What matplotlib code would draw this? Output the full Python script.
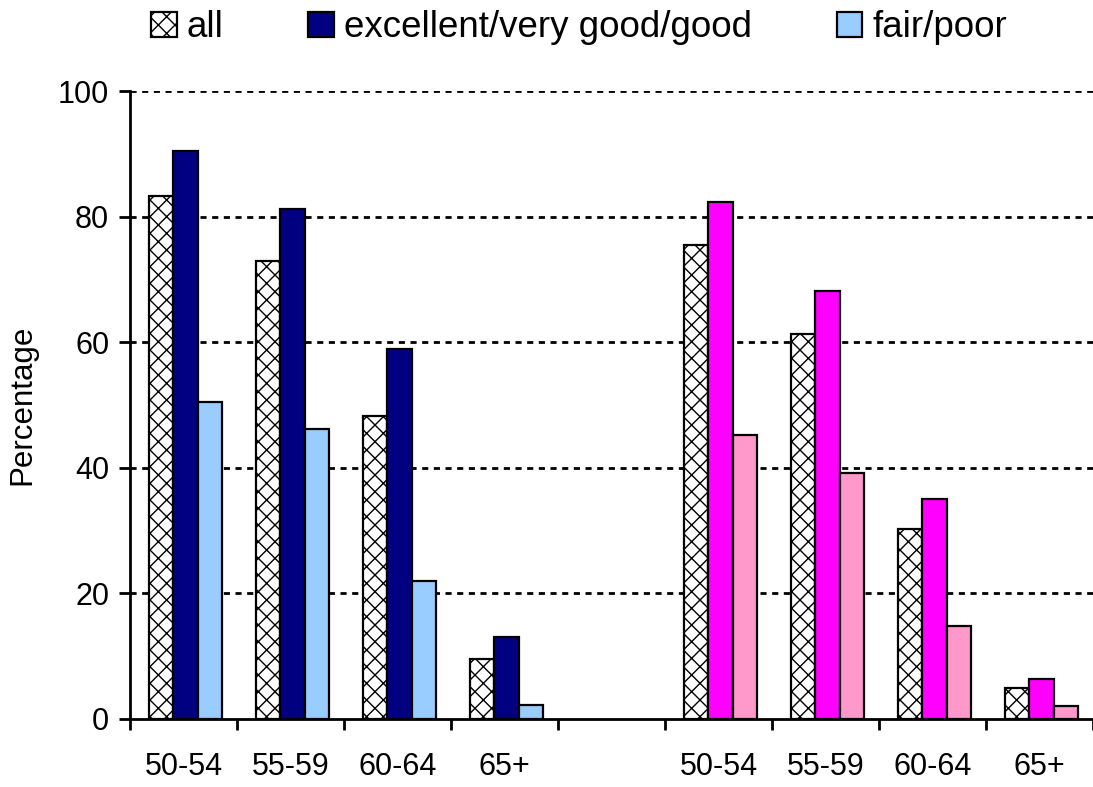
import matplotlib
matplotlib.use("Agg")
import matplotlib.pyplot as plt
import numpy as np

plt.rcParams['font.family'] = ['Liberation Sans', 'DejaVu Sans']
plt.rcParams['hatch.color'] = '#777777'
plt.rcParams['hatch.linewidth'] = 1.0

categories = ['50-54', '55-59', '60-64', '65+', '', '50-54', '55-59', '60-64', '65+']
series_names = ['all', 'excellent/very good/good', 'fair/poor']

male_all = [83.3, 72.9, 48.3, 9.5]
male_good = [90.5, 81.2, 58.9, 13.0]
male_fair = [50.5, 46.1, 22.0, 2.2]
female_all = [75.5, 61.3, 30.3, 4.9]
female_good = [82.3, 68.2, 35.1, 6.3]
female_fair = [45.2, 39.1, 14.8, 2.0]

yticks = [0, 20, 40, 60, 80, 100]

fig = plt.figure(figsize=(10.93, 7.87), dpi=100)
ax = fig.add_axes([130/1093, 68/787, 963/1093, 628/787])

w = 0.228
shift = 0.52
male_x = np.arange(4)
female_x = np.arange(5, 9)

def draw(xs, vals, offset, color, hatch=None, label=None):
    return ax.bar(xs + offset + shift, vals, width=w, color=color, edgecolor='black',
                  linewidth=1.6, hatch=hatch, label=label, zorder=3)

b1 = draw(male_x, male_all, -w, 'white', hatch='xx', label=series_names[0])
b2 = draw(male_x, male_good, 0, '#000080', label=series_names[1])
b3 = draw(male_x, male_fair, w, '#99CCFF', label=series_names[2])
draw(female_x, female_all, -w, 'white', hatch='xx')
draw(female_x, female_good, 0, '#FF00FF')
draw(female_x, female_fair, w, '#FF99CC')

ax.set_xlim(0, 9)
ax.set_ylim(0, 100)
ax.set_xticks(np.arange(0, 10))
ax.set_xticklabels([])
ax.set_xticks(np.arange(9) + 0.5, minor=True)
ax.set_xticklabels(categories, minor=True)
ax.tick_params(axis='x', which='major', direction='out', length=8, width=2)
ax.tick_params(axis='x', which='minor', length=0, pad=24, labelsize=22)
ax.set_yticks(yticks)
ax.tick_params(axis='y', direction='out', length=8, width=2, labelsize=22, pad=7)

for y in yticks[1:]:
    ax.axhline(y, color='black', linestyle=(0, (2.2, 2.0)), linewidth=2, zorder=1)

for s in ['top', 'right']:
    ax.spines[s].set_visible(False)
for s in ['left', 'bottom']:
    ax.spines[s].set_linewidth(2)

ax.set_ylabel('Percentage', fontsize=22.5, labelpad=15)

fig.legend(handles=[b1, b2, b3], labels=series_names, loc='center',
           bbox_to_anchor=(579/1093, 0.965), ncol=3, frameon=False, fontsize=26.5,
           handlelength=0.7, handleheight=0.68, handletextpad=0.27, columnspacing=2.3,
           borderpad=0, borderaxespad=0)

fig.savefig('out.png', dpi=100)
